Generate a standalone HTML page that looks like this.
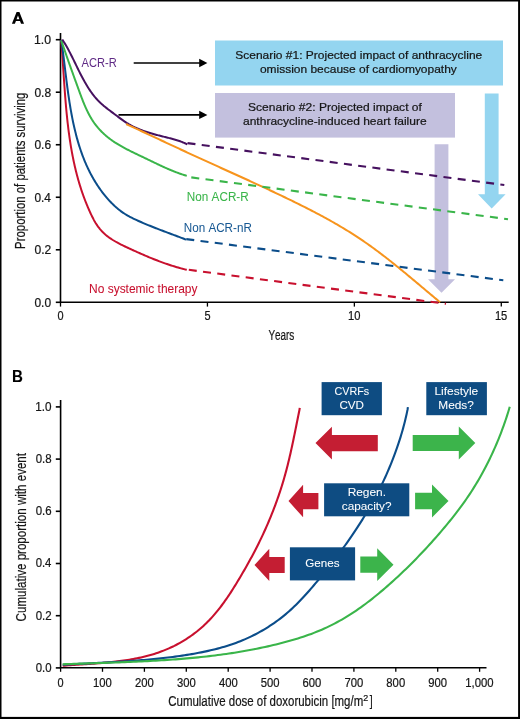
<!DOCTYPE html>
<html><head><meta charset="utf-8"><title>Figure</title>
<style>html,body{margin:0;padding:0;background:#fff;width:520px;height:719px;overflow:hidden;}
text{font-family:"Liberation Sans", sans-serif;}</style></head>
<body>
<svg width="520" height="719" viewBox="0 0 520 719" style="display:block;will-change:transform">
<rect x="0" y="0" width="520" height="719" fill="#fff"/>
<g font-family='"Liberation Sans", sans-serif' style="font-kerning:none">
<path d="M11.9,23.7 L16.6,11.9 L19.4,11.9 L24.05,23.7 L21.05,23.7 L20.0,21.1 L15.95,21.1 L14.9,23.7 Z M16.55,19.3 L17.97,15.6 L19.4,19.3 Z" fill="#000" fill-rule="evenodd"/>
<rect x="215" y="40.5" width="288" height="45" fill="#94d5f0"/>
<rect x="215" y="93" width="240" height="44.6" fill="#c3c0de"/>
<path d="M434.6,144.2 H448.4 V279.3 H455 L441.5,292.8 L428,279.3 H434.6 Z" fill="#c3c0de"/>
<path d="M484.8,93.5 H498.6 V194.2 H505.6 L491.7,208.5 L478,194.2 H484.8 Z" fill="#94d5f0"/>
<g stroke="#000" stroke-width="1.6" fill="none">
<path d="M60.5,33 V302.3 H508.7"/>
<path d="M55.8,39.70 H60.5"/>
<path d="M55.8,92.22 H60.5"/>
<path d="M55.8,144.74 H60.5"/>
<path d="M55.8,197.26 H60.5"/>
<path d="M55.8,249.78 H60.5"/>
<path d="M55.8,302.30 H60.5"/>
<path d="M60.50,302.3 V306.6" stroke-width="1.3"/>
<path d="M207.43,302.3 V306.6" stroke-width="1.3"/>
<path d="M354.36,302.3 V306.6" stroke-width="1.3"/>
<path d="M501.29,302.3 V306.6" stroke-width="1.3"/>
</g>
<g stroke="#000" stroke-width="1.7"><path d="M133.7,63 H200"/><path d="M118.5,114.9 H200"/></g>
<path d="M199.2,58.8 L207.4,63 L199.2,67.2 Z" fill="#000"/>
<path d="M199.2,110.7 L207.4,114.9 L199.2,119.1 Z" fill="#000"/>
<g fill="none" stroke-width="2.0" stroke-linejoin="round" stroke-linecap="butt">
<path d="M61.00,40.00 L61.29,41.54 L61.40,42.99 L61.52,44.43 L61.63,45.88 L61.74,47.33 L61.85,48.78 L61.96,50.23 L62.07,51.68 L62.17,53.14 L62.28,54.59 L62.38,56.05 L62.48,57.50 L62.58,58.96 L62.69,60.42 L62.78,61.88 L62.88,63.34 L62.98,64.80 L63.08,66.26 L63.18,67.72 L63.28,69.19 L63.37,70.65 L63.47,72.12 L63.57,73.58 L63.67,75.05 L63.76,76.51 L63.86,77.98 L63.96,79.45 L64.06,80.92 L64.16,82.38 L64.26,83.85 L64.37,85.32 L64.47,86.79 L64.58,88.26 L64.68,89.73 L64.79,91.20 L64.90,92.67 L65.01,94.14 L65.12,95.61 L65.24,97.08 L65.35,98.55 L65.47,100.02 L65.59,101.49 L65.71,102.96 L65.84,104.43 L65.96,105.90 L66.09,107.36 L66.23,108.83 L66.36,110.30 L66.50,111.77 L66.64,113.24 L66.79,114.70 L66.93,116.17 L67.09,117.64 L67.24,119.10 L67.40,120.57 L67.56,122.03 L67.72,123.49 L67.89,124.96 L68.07,126.42 L68.24,127.88 L68.42,129.34 L68.61,130.80 L68.80,132.26 L68.99,133.72 L69.19,135.17 L69.40,136.63 L69.61,138.09 L69.82,139.54 L70.04,140.99 L70.26,142.44 L70.49,143.89 L70.72,145.34 L70.96,146.79 L71.21,148.24 L71.46,149.68 L71.71,151.13 L71.98,152.57 L72.25,154.01 L72.52,155.45 L72.80,156.89 L73.09,158.32 L73.38,159.76 L73.68,161.19 L73.99,162.62 L74.30,164.05 L74.62,165.48 L74.95,166.91 L75.28,168.33 L75.62,169.76 L75.97,171.18 L76.32,172.59 L76.69,174.01 L77.06,175.43 L77.44,176.84 L77.82,178.25 L78.22,179.66 L78.62,181.06 L79.03,182.47 L79.45,183.87 L79.87,185.27 L80.31,186.67 L80.75,188.06 L81.20,189.46 L81.66,190.85 L82.13,192.23 L82.61,193.62 L83.10,195.00 L83.59,196.38 L84.10,197.76 L84.62,199.13 L85.14,200.51 L85.67,201.88 L86.22,203.24 L86.77,204.61 L87.34,205.97 L87.91,207.32 L88.49,208.68 L89.09,210.03 L89.69,211.38 L90.31,212.73 L90.93,214.07 L91.57,215.41 L92.23,216.74 L92.90,218.05 L93.58,219.36 L94.29,220.65 L95.03,221.92 L95.78,223.18 L96.56,224.41 L97.37,225.62 L98.21,226.81 L99.09,227.96 L99.99,229.09 L100.93,230.19 L101.91,231.25 L102.92,232.28 L103.96,233.28 L105.03,234.25 L106.13,235.19 L107.26,236.10 L108.41,236.98 L109.59,237.84 L110.79,238.66 L112.02,239.47 L113.26,240.25 L114.52,241.00 L115.79,241.74 L117.08,242.46 L118.39,243.16 L119.70,243.85 L121.02,244.52 L122.36,245.18 L123.69,245.83 L125.04,246.48 L126.38,247.11 L127.73,247.74 L129.08,248.36 L130.43,248.99 L131.77,249.61 L133.12,250.22 L134.47,250.83 L135.81,251.44 L137.15,252.05 L138.50,252.65 L139.84,253.25 L141.19,253.84 L142.53,254.43 L143.88,255.01 L145.22,255.59 L146.57,256.16 L147.92,256.73 L149.27,257.30 L150.62,257.85 L151.97,258.41 L153.33,258.95 L154.68,259.49 L156.04,260.03 L157.40,260.55 L158.77,261.08 L160.13,261.59 L161.50,262.10 L162.87,262.60 L164.25,263.09 L165.63,263.57 L167.01,264.05 L168.40,264.52 L169.79,264.98 L171.18,265.44 L172.58,265.88 L173.98,266.32 L175.39,266.75 L176.80,267.17 L178.22,267.57 L179.64,267.98 L181.07,268.37 L182.50,268.75 L183.94,269.12 L185.38,269.48 L186.80,269.80" stroke="#c8102e"/>
<path d="M61.00,40.00 L61.51,41.51 L61.68,42.75 L61.86,43.98 L62.03,45.22 L62.20,46.46 L62.37,47.70 L62.54,48.95 L62.70,50.20 L62.86,51.45 L63.03,52.71 L63.19,53.96 L63.35,55.22 L63.51,56.49 L63.67,57.75 L63.83,59.02 L63.98,60.29 L64.14,61.56 L64.30,62.83 L64.45,64.11 L64.61,65.38 L64.76,66.66 L64.92,67.94 L65.08,69.23 L65.23,70.51 L65.39,71.79 L65.55,73.08 L65.71,74.37 L65.87,75.66 L66.03,76.95 L66.19,78.24 L66.35,79.53 L66.51,80.82 L66.68,82.12 L66.84,83.41 L67.01,84.71 L67.18,86.00 L67.35,87.30 L67.53,88.60 L67.70,89.90 L67.88,91.19 L68.06,92.49 L68.24,93.79 L68.43,95.09 L68.62,96.38 L68.81,97.68 L69.00,98.98 L69.20,100.27 L69.40,101.57 L69.60,102.87 L69.81,104.16 L70.02,105.46 L70.23,106.75 L70.45,108.05 L70.67,109.34 L70.90,110.63 L71.13,111.92 L71.36,113.21 L71.60,114.50 L71.84,115.78 L72.09,117.07 L72.34,118.35 L72.59,119.64 L72.86,120.92 L73.12,122.20 L73.39,123.47 L73.67,124.75 L73.95,126.02 L74.24,127.30 L74.53,128.56 L74.83,129.83 L75.14,131.10 L75.45,132.36 L75.77,133.62 L76.09,134.88 L76.42,136.13 L76.75,137.39 L77.10,138.64 L77.45,139.88 L77.80,141.13 L78.17,142.37 L78.54,143.61 L78.91,144.84 L79.30,146.08 L79.69,147.30 L80.09,148.53 L80.50,149.75 L80.91,150.97 L81.33,152.19 L81.76,153.40 L82.20,154.60 L82.65,155.81 L83.10,157.01 L83.57,158.20 L84.04,159.39 L84.52,160.58 L85.01,161.76 L85.51,162.94 L86.02,164.12 L86.53,165.29 L87.06,166.45 L87.60,167.61 L88.14,168.77 L88.69,169.92 L89.26,171.06 L89.83,172.21 L90.42,173.34 L91.01,174.47 L91.62,175.60 L92.23,176.72 L92.86,177.83 L93.49,178.94 L94.14,180.05 L94.80,181.14 L95.46,182.24 L96.14,183.32 L96.83,184.40 L97.54,185.48 L98.25,186.55 L98.97,187.61 L99.71,188.67 L100.46,189.72 L101.22,190.76 L101.99,191.80 L102.77,192.83 L103.57,193.86 L104.38,194.87 L105.20,195.88 L106.03,196.89 L106.88,197.88 L107.74,198.87 L108.61,199.85 L109.49,200.82 L110.39,201.78 L111.30,202.72 L112.22,203.65 L113.15,204.57 L114.10,205.48 L115.06,206.37 L116.03,207.24 L117.02,208.10 L118.02,208.93 L119.03,209.75 L120.06,210.55 L121.09,211.33 L122.14,212.09 L123.21,212.83 L124.28,213.54 L125.37,214.23 L126.48,214.90 L127.59,215.55 L128.71,216.18 L129.84,216.79 L130.99,217.39 L132.14,217.97 L133.29,218.54 L134.46,219.10 L135.63,219.65 L136.80,220.19 L137.98,220.72 L139.16,221.25 L140.34,221.78 L141.53,222.29 L142.72,222.81 L143.91,223.32 L145.10,223.82 L146.30,224.32 L147.50,224.82 L148.70,225.31 L149.90,225.80 L151.11,226.29 L152.31,226.77 L153.52,227.25 L154.73,227.73 L155.94,228.20 L157.15,228.67 L158.36,229.14 L159.57,229.61 L160.79,230.07 L162.00,230.54 L163.22,231.00 L164.43,231.46 L165.65,231.92 L166.86,232.37 L168.08,232.83 L169.29,233.29 L170.51,233.74 L171.72,234.19 L172.94,234.65 L174.15,235.10 L175.36,235.55 L176.57,236.01 L177.78,236.46 L178.99,236.91 L180.20,237.37 L181.41,237.82 L182.62,238.28 L183.82,238.74 L185.02,239.20 L186.30,239.50" stroke="#0b4d8a"/>
<path d="M61.30,40.20 L61.53,41.18 L61.85,42.12 L62.17,43.07 L62.48,44.02 L62.80,44.96 L63.12,45.90 L63.44,46.84 L63.76,47.79 L64.08,48.72 L64.40,49.66 L64.72,50.60 L65.05,51.54 L65.37,52.47 L65.69,53.41 L66.02,54.34 L66.34,55.28 L66.67,56.21 L66.99,57.14 L67.32,58.08 L67.65,59.01 L67.97,59.94 L68.30,60.87 L68.63,61.80 L68.96,62.73 L69.29,63.66 L69.62,64.59 L69.95,65.52 L70.28,66.45 L70.61,67.38 L70.95,68.31 L71.28,69.23 L71.61,70.16 L71.95,71.09 L72.28,72.02 L72.62,72.95 L72.95,73.88 L73.29,74.81 L73.62,75.74 L73.96,76.67 L74.30,77.61 L74.64,78.54 L74.97,79.47 L75.31,80.40 L75.65,81.34 L75.99,82.27 L76.33,83.21 L76.67,84.14 L77.01,85.08 L77.35,86.02 L77.69,86.96 L78.03,87.90 L78.38,88.84 L78.72,89.78 L79.06,90.72 L79.40,91.66 L79.75,92.61 L80.10,93.55 L80.44,94.50 L80.79,95.44 L81.15,96.38 L81.50,97.32 L81.86,98.26 L82.22,99.20 L82.58,100.14 L82.95,101.08 L83.33,102.01 L83.70,102.94 L84.08,103.87 L84.47,104.79 L84.86,105.71 L85.26,106.63 L85.66,107.54 L86.07,108.45 L86.49,109.36 L86.91,110.26 L87.34,111.16 L87.78,112.05 L88.23,112.93 L88.68,113.81 L89.14,114.69 L89.61,115.55 L90.09,116.42 L90.58,117.27 L91.08,118.12 L91.59,118.96 L92.10,119.79 L92.63,120.61 L93.17,121.43 L93.72,122.24 L94.28,123.04 L94.86,123.83 L95.44,124.61 L96.03,125.38 L96.64,126.15 L97.26,126.90 L97.88,127.65 L98.52,128.39 L99.17,129.12 L99.83,129.84 L100.50,130.55 L101.17,131.25 L101.86,131.94 L102.56,132.63 L103.26,133.30 L103.98,133.97 L104.70,134.62 L105.43,135.27 L106.18,135.91 L106.92,136.54 L107.68,137.16 L108.45,137.78 L109.22,138.38 L110.00,138.97 L110.79,139.56 L111.59,140.13 L112.39,140.70 L113.20,141.26 L114.02,141.81 L114.84,142.36 L115.67,142.89 L116.51,143.42 L117.35,143.94 L118.20,144.46 L119.05,144.97 L119.90,145.47 L120.77,145.97 L121.63,146.46 L122.50,146.95 L123.37,147.43 L124.25,147.90 L125.13,148.37 L126.02,148.84 L126.90,149.30 L127.79,149.76 L128.69,150.21 L129.58,150.67 L130.48,151.11 L131.38,151.56 L132.28,152.00 L133.18,152.44 L134.08,152.88 L134.99,153.32 L135.89,153.75 L136.80,154.18 L137.70,154.61 L138.61,155.04 L139.51,155.48 L140.42,155.90 L141.32,156.33 L142.22,156.76 L143.12,157.19 L144.02,157.63 L144.92,158.06 L145.82,158.49 L146.71,158.92 L147.61,159.35 L148.50,159.79 L149.39,160.22 L150.28,160.65 L151.17,161.08 L152.07,161.51 L152.96,161.94 L153.85,162.37 L154.74,162.80 L155.63,163.22 L156.52,163.65 L157.41,164.07 L158.30,164.49 L159.19,164.91 L160.08,165.33 L160.97,165.75 L161.87,166.16 L162.76,166.57 L163.66,166.98 L164.55,167.38 L165.45,167.79 L166.35,168.19 L167.25,168.58 L168.16,168.97 L169.06,169.36 L169.97,169.75 L170.88,170.13 L171.79,170.51 L172.70,170.88 L173.62,171.25 L174.54,171.61 L175.46,171.97 L176.39,172.32 L177.32,172.67 L178.25,173.02 L179.18,173.36 L180.12,173.69 L181.06,174.02 L182.01,174.34 L182.96,174.65 L183.91,174.96 L184.87,175.27 L185.83,175.57 L186.80,175.80" stroke="#3ab54a"/>
<path d="M62.30,39.50 L62.79,40.26 L63.25,40.97 L63.71,41.69 L64.16,42.41 L64.61,43.14 L65.05,43.87 L65.49,44.61 L65.92,45.35 L66.35,46.09 L66.78,46.83 L67.20,47.58 L67.62,48.33 L68.03,49.09 L68.44,49.84 L68.85,50.60 L69.25,51.37 L69.66,52.13 L70.06,52.90 L70.45,53.67 L70.85,54.44 L71.24,55.21 L71.63,55.99 L72.02,56.76 L72.41,57.54 L72.79,58.32 L73.18,59.10 L73.56,59.88 L73.94,60.66 L74.33,61.45 L74.71,62.23 L75.09,63.01 L75.47,63.80 L75.85,64.58 L76.23,65.37 L76.61,66.15 L76.99,66.94 L77.37,67.72 L77.75,68.50 L78.14,69.29 L78.52,70.07 L78.91,70.85 L79.30,71.63 L79.68,72.41 L80.07,73.19 L80.47,73.96 L80.86,74.74 L81.26,75.51 L81.66,76.28 L82.06,77.05 L82.47,77.81 L82.87,78.58 L83.28,79.34 L83.70,80.10 L84.12,80.85 L84.54,81.61 L84.96,82.36 L85.39,83.11 L85.83,83.85 L86.26,84.59 L86.71,85.33 L87.15,86.06 L87.60,86.79 L88.06,87.52 L88.52,88.24 L88.99,88.96 L89.46,89.67 L89.94,90.38 L90.43,91.08 L90.92,91.78 L91.41,92.47 L91.92,93.16 L92.43,93.85 L92.94,94.52 L93.46,95.20 L93.99,95.86 L94.53,96.53 L95.08,97.18 L95.63,97.83 L96.19,98.47 L96.76,99.11 L97.33,99.74 L97.92,100.36 L98.51,100.98 L99.11,101.59 L99.72,102.19 L100.34,102.79 L100.97,103.38 L101.61,103.96 L102.25,104.54 L102.90,105.11 L103.56,105.67 L104.23,106.23 L104.90,106.78 L105.58,107.33 L106.26,107.87 L106.95,108.41 L107.64,108.95 L108.33,109.48 L109.03,110.01 L109.73,110.54 L110.43,111.07 L111.13,111.60 L111.84,112.12 L112.54,112.64 L113.24,113.17 L113.95,113.69 L114.65,114.21 L115.35,114.74 L116.04,115.26 L116.74,115.79 L117.43,116.32 L118.13,116.84 L118.82,117.36 L119.52,117.88 L120.21,118.40 L120.91,118.92 L121.60,119.42 L122.30,119.93 L123.00,120.43 L123.71,120.92 L124.41,121.41 L125.13,121.89 L125.84,122.36 L126.56,122.82 L127.29,123.27 L128.02,123.71 L128.75,124.15 L129.49,124.57 L130.23,124.99 L130.98,125.40 L131.74,125.79 L132.50,126.18 L133.26,126.57 L134.03,126.94 L134.80,127.31 L135.57,127.66 L136.35,128.02 L137.13,128.36 L137.92,128.70 L138.71,129.03 L139.50,129.35 L140.30,129.67 L141.10,129.98 L141.90,130.28 L142.70,130.58 L143.51,130.87 L144.32,131.16 L145.14,131.44 L145.95,131.72 L146.77,131.99 L147.59,132.25 L148.42,132.52 L149.24,132.77 L150.07,133.03 L150.90,133.28 L151.73,133.52 L152.56,133.76 L153.39,134.00 L154.23,134.23 L155.07,134.46 L155.91,134.69 L156.74,134.92 L157.58,135.14 L158.43,135.36 L159.27,135.58 L160.11,135.79 L160.95,136.01 L161.80,136.22 L162.64,136.43 L163.48,136.64 L164.33,136.85 L165.17,137.06 L166.02,137.27 L166.86,137.47 L167.70,137.68 L168.54,137.89 L169.38,138.11 L170.22,138.32 L171.06,138.54 L171.90,138.77 L172.73,138.99 L173.57,139.22 L174.40,139.46 L175.23,139.70 L176.06,139.95 L176.88,140.21 L177.70,140.47 L178.52,140.74 L179.34,141.02 L180.15,141.31 L180.96,141.61 L181.77,141.91 L182.57,142.23 L183.37,142.56 L184.16,142.90 L184.95,143.25 L185.74,143.62 L186.52,143.99 L187.30,144.40" stroke="#46115f"/>
<path d="M126.20,124.00 L127.82,124.85 L129.48,125.61 L131.13,126.38 L132.79,127.14 L134.45,127.91 L136.10,128.67 L137.76,129.44 L139.42,130.21 L141.07,130.98 L142.73,131.74 L144.38,132.51 L146.04,133.28 L147.69,134.05 L149.34,134.82 L151.00,135.60 L152.65,136.37 L154.31,137.14 L155.96,137.91 L157.61,138.68 L159.27,139.45 L160.92,140.22 L162.57,141.00 L164.23,141.77 L165.88,142.54 L167.53,143.31 L169.19,144.08 L170.84,144.85 L172.49,145.62 L174.15,146.39 L175.80,147.16 L177.45,147.93 L179.11,148.70 L180.76,149.47 L182.42,150.24 L184.07,151.01 L185.73,151.78 L187.38,152.54 L189.04,153.31 L190.70,154.08 L192.35,154.84 L194.01,155.60 L195.67,156.37 L197.33,157.13 L198.98,157.89 L200.64,158.65 L202.30,159.41 L203.96,160.17 L205.62,160.93 L207.28,161.68 L208.94,162.44 L210.61,163.19 L212.27,163.95 L213.93,164.70 L215.59,165.46 L217.25,166.21 L218.92,166.96 L220.58,167.72 L222.24,168.47 L223.91,169.22 L225.57,169.97 L227.23,170.73 L228.90,171.48 L230.56,172.23 L232.22,172.98 L233.89,173.74 L235.55,174.49 L237.21,175.24 L238.87,176.00 L240.54,176.75 L242.20,177.51 L243.86,178.26 L245.52,179.02 L247.18,179.77 L248.85,180.53 L250.51,181.29 L252.17,182.05 L253.83,182.81 L255.49,183.57 L257.14,184.33 L258.80,185.10 L260.46,185.86 L262.12,186.63 L263.77,187.39 L265.43,188.16 L267.08,188.93 L268.74,189.70 L270.39,190.48 L272.04,191.25 L273.70,192.03 L275.35,192.81 L277.00,193.59 L278.65,194.37 L280.29,195.15 L281.94,195.94 L283.59,196.73 L285.23,197.52 L286.88,198.31 L288.52,199.10 L290.16,199.90 L291.80,200.70 L293.44,201.50 L295.08,202.30 L296.72,203.11 L298.35,203.92 L299.99,204.73 L301.62,205.55 L303.25,206.37 L304.88,207.19 L306.51,208.01 L308.13,208.84 L309.76,209.67 L311.38,210.51 L313.00,211.35 L314.62,212.19 L316.23,213.04 L317.84,213.89 L319.45,214.74 L321.06,215.60 L322.67,216.47 L324.27,217.34 L325.87,218.21 L327.46,219.09 L329.06,219.97 L330.65,220.86 L332.23,221.75 L333.82,222.65 L335.40,223.56 L336.98,224.47 L338.55,225.39 L340.12,226.31 L341.69,227.24 L343.25,228.17 L344.81,229.11 L346.36,230.06 L347.91,231.01 L349.46,231.97 L351.00,232.94 L352.54,233.91 L354.07,234.89 L355.60,235.88 L357.13,236.88 L358.65,237.88 L360.16,238.89 L361.67,239.91 L363.18,240.93 L364.68,241.96 L366.17,243.00 L367.67,244.05 L369.15,245.10 L370.64,246.16 L372.12,247.23 L373.59,248.30 L375.06,249.38 L376.53,250.47 L377.99,251.56 L379.45,252.65 L380.91,253.75 L382.36,254.86 L383.81,255.97 L385.26,257.08 L386.70,258.20 L388.14,259.33 L389.58,260.46 L391.01,261.59 L392.44,262.73 L393.87,263.87 L395.30,265.01 L396.72,266.16 L398.14,267.31 L399.56,268.46 L400.98,269.62 L402.40,270.78 L403.81,271.94 L405.22,273.10 L406.63,274.27 L408.04,275.44 L409.45,276.61 L410.85,277.78 L412.26,278.95 L413.66,280.12 L415.06,281.29 L416.46,282.47 L417.87,283.64 L419.26,284.82 L420.66,286.00 L422.06,287.17 L423.46,288.35 L424.86,289.52 L426.25,290.70 L427.65,291.87 L429.05,293.05 L430.45,294.22 L431.84,295.39 L433.24,296.56 L434.64,297.73 L436.04,298.89 L437.44,300.06 L438.83,301.22 L440.30,302.30" stroke="#f7941d"/>
</g>
<path d="M187.50,143.10 L504.30,185.00" stroke="#46115f" stroke-width="2.10" stroke-dasharray="8.000 6.344" fill="none"/>
<path d="M191.30,177.40 L508.00,219.20" stroke="#3ab54a" stroke-width="2.10" stroke-dasharray="8.000 6.343" fill="none"/>
<path d="M186.30,239.10 L503.30,280.30" stroke="#0b4d8a" stroke-width="2.10" stroke-dasharray="8.000 6.340" fill="none"/>
<path d="M188.80,269.80 L446.00,303.80" stroke="#c8102e" stroke-width="2.10" stroke-dasharray="8.000 6.344" fill="none"/>
<text x="81.48" y="66.90" font-size="12.10" fill="#5f2a85" textLength="35.24" lengthAdjust="spacingAndGlyphs">ACR-R</text>
<text x="186.86" y="200.80" font-size="12.10" fill="#3ab54a" stroke="#3ab54a" stroke-width="0.05" textLength="61.85" lengthAdjust="spacingAndGlyphs">Non ACR-R</text>
<text x="183.76" y="231.60" font-size="12.10" fill="#175893" stroke="#175893" stroke-width="0.03" textLength="68.07" lengthAdjust="spacingAndGlyphs">Non ACR-nR</text>
<text x="89.04" y="293.20" font-size="12.10" fill="#c8102e" stroke="#c8102e" stroke-width="0.05" textLength="108.46" lengthAdjust="spacingAndGlyphs">No systemic therapy</text>
<text x="235.27" y="59.20" font-size="11.80" fill="#161616" stroke="#161616" stroke-width="0.22" textLength="246.96" lengthAdjust="spacingAndGlyphs">Scenario #1: Projected impact of anthracycline</text>
<text x="259.91" y="73.40" font-size="11.80" fill="#161616" stroke="#161616" stroke-width="0.22" textLength="196.91" lengthAdjust="spacingAndGlyphs">omission because of cardiomyopathy</text>
<text x="248.06" y="111.20" font-size="11.80" fill="#161616" stroke="#161616" stroke-width="0.22" textLength="173.81" lengthAdjust="spacingAndGlyphs">Scenario #2: Projected impact of</text>
<text x="243.00" y="125.30" font-size="11.80" fill="#161616" stroke="#161616" stroke-width="0.22" textLength="183.62" lengthAdjust="spacingAndGlyphs">anthracycline-induced heart failure</text>
<text x="33.97" y="44.00" font-size="12.40" fill="#161616" stroke="#161616" stroke-width="0.22" textLength="17.10" lengthAdjust="spacingAndGlyphs">1.0</text>
<text x="34.44" y="96.52" font-size="12.40" fill="#161616" stroke="#161616" stroke-width="0.22" textLength="16.67" lengthAdjust="spacingAndGlyphs">0.8</text>
<text x="34.44" y="149.04" font-size="12.40" fill="#161616" stroke="#161616" stroke-width="0.22" textLength="16.68" lengthAdjust="spacingAndGlyphs">0.6</text>
<text x="34.45" y="201.56" font-size="12.40" fill="#161616" stroke="#161616" stroke-width="0.22" textLength="16.49" lengthAdjust="spacingAndGlyphs">0.4</text>
<text x="34.44" y="254.08" font-size="12.40" fill="#161616" stroke="#161616" stroke-width="0.22" textLength="16.76" lengthAdjust="spacingAndGlyphs">0.2</text>
<text x="34.44" y="306.60" font-size="12.40" fill="#161616" stroke="#161616" stroke-width="0.22" textLength="16.61" lengthAdjust="spacingAndGlyphs">0.0</text>
<text x="57.46" y="319.50" font-size="12.40" fill="#161616" stroke="#161616" stroke-width="0.22" textLength="6.09" lengthAdjust="spacingAndGlyphs">0</text>
<text x="204.40" y="319.50" font-size="12.40" fill="#161616" stroke="#161616" stroke-width="0.22" textLength="6.09" lengthAdjust="spacingAndGlyphs">5</text>
<text x="347.93" y="319.50" font-size="12.40" fill="#161616" stroke="#161616" stroke-width="0.22" textLength="12.44" lengthAdjust="spacingAndGlyphs">10</text>
<text x="494.88" y="319.50" font-size="12.40" fill="#161616" stroke="#161616" stroke-width="0.22" textLength="12.44" lengthAdjust="spacingAndGlyphs">15</text>
<text x="268.39" y="339.50" font-size="14.70" fill="#161616" stroke="#161616" stroke-width="0.22" textLength="25.96" lengthAdjust="spacingAndGlyphs">Years</text>
<text transform="translate(25.10,248.00) rotate(-90)" x="-0.93" y="0" font-size="14.40" fill="#161616" stroke="#161616" stroke-width="0.22" textLength="156.37" lengthAdjust="spacingAndGlyphs">Proportion of patients surviving</text>
<text x="12.04" y="381.60" font-size="17.00" fill="#000" stroke="#000" stroke-width="0.10" font-weight="bold" textLength="10.89" lengthAdjust="spacingAndGlyphs">B</text>
<g fill="none" stroke-width="2.1">
<path d="M62.70,665.80 L64.64,665.61 L66.57,665.47 L68.50,665.32 L70.43,665.19 L72.37,665.05 L74.31,664.92 L76.26,664.79 L78.21,664.67 L80.17,664.54 L82.12,664.41 L84.09,664.28 L86.05,664.15 L88.02,664.02 L89.99,663.89 L91.96,663.75 L93.93,663.61 L95.90,663.46 L97.88,663.31 L99.86,663.16 L101.83,663.00 L103.81,662.83 L105.78,662.65 L107.76,662.46 L109.74,662.27 L111.71,662.06 L113.68,661.85 L115.65,661.63 L117.62,661.39 L119.59,661.14 L121.55,660.88 L123.51,660.61 L125.47,660.32 L127.43,660.01 L129.38,659.70 L131.32,659.36 L133.27,659.01 L135.20,658.64 L137.14,658.26 L139.06,657.85 L140.99,657.43 L142.90,656.99 L144.81,656.52 L146.72,656.04 L148.61,655.53 L150.50,655.00 L152.38,654.45 L154.26,653.88 L156.13,653.28 L157.98,652.66 L159.83,652.01 L161.68,651.33 L163.51,650.63 L165.33,649.90 L167.14,649.15 L168.95,648.36 L170.74,647.55 L172.52,646.71 L174.29,645.85 L176.04,644.95 L177.78,644.03 L179.51,643.09 L181.23,642.12 L182.93,641.12 L184.61,640.10 L186.28,639.05 L187.93,637.98 L189.57,636.88 L191.18,635.76 L192.78,634.61 L194.36,633.44 L195.92,632.24 L197.46,631.03 L198.98,629.78 L200.48,628.52 L201.96,627.23 L203.41,625.92 L204.85,624.59 L206.26,623.23 L207.65,621.85 L209.01,620.46 L210.36,619.04 L211.69,617.60 L212.99,616.15 L214.28,614.67 L215.55,613.18 L216.80,611.68 L218.04,610.16 L219.26,608.62 L220.46,607.07 L221.65,605.50 L222.82,603.92 L223.98,602.33 L225.12,600.73 L226.25,599.11 L227.37,597.49 L228.47,595.85 L229.57,594.21 L230.65,592.56 L231.73,590.90 L232.79,589.23 L233.84,587.56 L234.89,585.88 L235.93,584.20 L236.96,582.51 L237.98,580.82 L238.99,579.12 L240.01,577.43 L241.01,575.73 L242.01,574.03 L243.00,572.32 L243.99,570.62 L244.97,568.91 L245.95,567.20 L246.92,565.49 L247.88,563.77 L248.84,562.05 L249.79,560.33 L250.73,558.61 L251.67,556.88 L252.60,555.15 L253.52,553.41 L254.43,551.68 L255.34,549.93 L256.23,548.19 L257.13,546.44 L258.01,544.68 L258.88,542.93 L259.75,541.16 L260.61,539.40 L261.46,537.62 L262.30,535.85 L263.13,534.07 L263.96,532.29 L264.77,530.50 L265.58,528.71 L266.38,526.91 L267.17,525.11 L267.95,523.31 L268.72,521.50 L269.48,519.69 L270.24,517.87 L270.98,516.06 L271.72,514.23 L272.45,512.41 L273.17,510.58 L273.88,508.74 L274.58,506.91 L275.27,505.07 L275.95,503.22 L276.62,501.37 L277.28,499.52 L277.93,497.67 L278.58,495.81 L279.21,493.95 L279.83,492.08 L280.45,490.21 L281.05,488.34 L281.65,486.47 L282.23,484.59 L282.80,482.71 L283.37,480.83 L283.92,478.94 L284.47,477.05 L285.00,475.15 L285.52,473.26 L286.04,471.36 L286.54,469.46 L287.04,467.55 L287.52,465.65 L288.00,463.74 L288.47,461.82 L288.93,459.91 L289.39,457.99 L289.83,456.08 L290.28,454.16 L290.71,452.24 L291.14,450.32 L291.56,448.39 L291.98,446.47 L292.40,444.54 L292.80,442.61 L293.21,440.69 L293.61,438.76 L294.01,436.83 L294.41,434.90 L294.80,432.97 L295.19,431.04 L295.58,429.12 L295.97,427.19 L296.36,425.26 L296.75,423.33 L297.13,421.40 L297.52,419.47 L297.91,417.55 L298.29,415.62 L298.68,413.70 L299.08,411.78 L299.47,409.85 L299.75,407.90" stroke="#c8102e"/>
<path d="M62.70,664.80 L65.10,664.68 L67.50,664.54 L69.90,664.40 L72.30,664.26 L74.70,664.13 L77.10,664.00 L79.49,663.87 L81.89,663.75 L84.29,663.62 L86.69,663.50 L89.09,663.37 L91.49,663.25 L93.88,663.12 L96.28,663.00 L98.68,662.87 L101.07,662.75 L103.47,662.62 L105.86,662.49 L108.26,662.36 L110.65,662.23 L113.05,662.09 L115.44,661.95 L117.83,661.81 L120.22,661.66 L122.62,661.51 L125.01,661.36 L127.40,661.20 L129.79,661.04 L132.18,660.87 L134.57,660.70 L136.96,660.52 L139.34,660.33 L141.73,660.14 L144.12,659.94 L146.50,659.74 L148.89,659.52 L151.28,659.30 L153.66,659.08 L156.04,658.84 L158.43,658.60 L160.81,658.34 L163.19,658.08 L165.57,657.81 L167.95,657.53 L170.33,657.24 L172.71,656.93 L175.08,656.62 L177.46,656.30 L179.83,655.96 L182.21,655.61 L184.58,655.26 L186.96,654.89 L189.33,654.50 L191.70,654.10 L194.07,653.69 L196.43,653.27 L198.80,652.83 L201.16,652.37 L203.52,651.89 L205.87,651.40 L208.22,650.88 L210.56,650.35 L212.90,649.79 L215.23,649.22 L217.55,648.62 L219.87,647.99 L222.18,647.35 L224.48,646.68 L226.78,645.98 L229.06,645.25 L231.34,644.50 L233.60,643.72 L235.86,642.91 L238.10,642.07 L240.34,641.20 L242.56,640.29 L244.77,639.36 L246.96,638.39 L249.14,637.39 L251.31,636.36 L253.47,635.30 L255.61,634.20 L257.73,633.08 L259.84,631.93 L261.93,630.75 L264.00,629.53 L266.06,628.29 L268.09,627.02 L270.11,625.72 L272.11,624.39 L274.09,623.04 L276.05,621.65 L277.99,620.24 L279.90,618.80 L281.80,617.33 L283.67,615.84 L285.52,614.32 L287.34,612.78 L289.14,611.20 L290.92,609.61 L292.67,607.99 L294.41,606.34 L296.12,604.68 L297.81,602.99 L299.49,601.29 L301.14,599.56 L302.78,597.82 L304.41,596.07 L306.02,594.29 L307.61,592.51 L309.20,590.71 L310.77,588.90 L312.34,587.08 L313.89,585.25 L315.44,583.42 L316.98,581.57 L318.51,579.72 L320.04,577.87 L321.57,576.01 L323.08,574.14 L324.59,572.27 L326.10,570.39 L327.60,568.51 L329.09,566.63 L330.57,564.73 L332.05,562.84 L333.52,560.93 L334.99,559.02 L336.44,557.11 L337.89,555.19 L339.33,553.26 L340.76,551.33 L342.19,549.39 L343.60,547.45 L345.01,545.50 L346.40,543.54 L347.79,541.58 L349.17,539.61 L350.54,537.64 L351.90,535.66 L353.24,533.67 L354.58,531.68 L355.91,529.68 L357.23,527.67 L358.53,525.66 L359.83,523.64 L361.11,521.62 L362.38,519.58 L363.64,517.55 L364.89,515.50 L366.13,513.45 L367.35,511.39 L368.56,509.33 L369.76,507.25 L370.95,505.17 L372.12,503.09 L373.28,500.99 L374.43,498.89 L375.56,496.79 L376.68,494.67 L377.78,492.55 L378.87,490.42 L379.95,488.29 L381.01,486.14 L382.05,483.99 L383.08,481.83 L384.10,479.67 L385.10,477.49 L386.08,475.31 L387.05,473.13 L388.00,470.93 L388.94,468.73 L389.86,466.53 L390.77,464.31 L391.66,462.09 L392.54,459.87 L393.40,457.64 L394.25,455.40 L395.08,453.16 L395.89,450.91 L396.69,448.66 L397.47,446.40 L398.24,444.13 L398.99,441.86 L399.73,439.59 L400.45,437.31 L401.15,435.02 L401.83,432.73 L402.49,430.44 L403.14,428.13 L403.76,425.82 L404.37,423.51 L404.95,421.19 L405.52,418.86 L406.06,416.53 L406.58,414.20 L407.08,411.85 L407.56,409.50 L407.90,407.10" stroke="#0b4d8a"/>
<path d="M62.70,664.30 L65.55,664.14 L68.36,664.04 L71.17,663.95 L73.98,663.85 L76.80,663.76 L79.61,663.67 L82.43,663.58 L85.25,663.48 L88.07,663.39 L90.89,663.30 L93.71,663.21 L96.53,663.12 L99.35,663.03 L102.17,662.94 L105.00,662.84 L107.82,662.75 L110.65,662.65 L113.47,662.55 L116.30,662.45 L119.12,662.34 L121.95,662.24 L124.78,662.13 L127.60,662.01 L130.43,661.90 L133.26,661.78 L136.09,661.65 L138.91,661.52 L141.74,661.39 L144.57,661.25 L147.39,661.11 L150.22,660.96 L153.04,660.80 L155.87,660.64 L158.69,660.47 L161.52,660.30 L164.34,660.12 L167.16,659.93 L169.99,659.74 L172.81,659.54 L175.63,659.33 L178.45,659.11 L181.26,658.88 L184.08,658.65 L186.90,658.41 L189.71,658.15 L192.53,657.89 L195.34,657.62 L198.15,657.34 L200.96,657.05 L203.77,656.75 L206.58,656.44 L209.38,656.11 L212.19,655.78 L214.99,655.43 L217.79,655.08 L220.59,654.71 L223.38,654.33 L226.18,653.93 L228.97,653.53 L231.76,653.11 L234.55,652.68 L237.33,652.23 L240.12,651.77 L242.90,651.30 L245.68,650.81 L248.45,650.31 L251.23,649.79 L254.00,649.26 L256.77,648.71 L259.54,648.15 L262.30,647.57 L265.06,646.98 L267.82,646.36 L270.57,645.74 L273.32,645.09 L276.07,644.43 L278.82,643.75 L281.56,643.05 L284.30,642.34 L287.03,641.60 L289.76,640.85 L292.49,640.07 L295.20,639.27 L297.91,638.44 L300.61,637.59 L303.29,636.71 L305.97,635.80 L308.64,634.86 L311.29,633.89 L313.93,632.89 L316.56,631.85 L319.17,630.78 L321.77,629.68 L324.34,628.53 L326.91,627.35 L329.45,626.14 L331.98,624.89 L334.49,623.60 L336.98,622.28 L339.45,620.93 L341.90,619.54 L344.34,618.12 L346.75,616.67 L349.15,615.18 L351.52,613.66 L353.88,612.12 L356.22,610.54 L358.54,608.94 L360.85,607.31 L363.13,605.66 L365.41,603.98 L367.66,602.28 L369.90,600.56 L372.13,598.82 L374.34,597.05 L376.54,595.27 L378.72,593.47 L380.89,591.66 L383.05,589.83 L385.20,587.99 L387.33,586.13 L389.45,584.27 L391.56,582.38 L393.66,580.49 L395.75,578.59 L397.83,576.67 L399.89,574.74 L401.95,572.80 L403.99,570.85 L406.02,568.88 L408.04,566.91 L410.05,564.92 L412.05,562.93 L414.04,560.92 L416.02,558.90 L417.98,556.88 L419.94,554.84 L421.89,552.79 L423.82,550.73 L425.74,548.67 L427.66,546.59 L429.56,544.51 L431.46,542.42 L433.34,540.31 L435.21,538.20 L437.08,536.08 L438.93,533.96 L440.77,531.82 L442.60,529.68 L444.43,527.52 L446.23,525.36 L448.03,523.19 L449.81,521.00 L451.58,518.81 L453.33,516.60 L455.07,514.39 L456.79,512.16 L458.49,509.91 L460.18,507.66 L461.85,505.39 L463.50,503.10 L465.12,500.81 L466.73,498.49 L468.32,496.16 L469.88,493.82 L471.43,491.45 L472.94,489.08 L474.44,486.68 L475.92,484.28 L477.37,481.85 L478.80,479.42 L480.21,476.97 L481.59,474.50 L482.96,472.03 L484.30,469.53 L485.62,467.03 L486.91,464.52 L488.19,461.99 L489.44,459.45 L490.67,456.90 L491.87,454.34 L493.06,451.77 L494.22,449.19 L495.36,446.60 L496.48,444.00 L497.57,441.39 L498.64,438.78 L499.69,436.15 L500.72,433.52 L501.73,430.88 L502.71,428.23 L503.67,425.58 L504.61,422.92 L505.53,420.25 L506.42,417.58 L507.29,414.90 L508.14,412.22 L508.97,409.53 L509.75,406.80" stroke="#3ab54a"/>
</g>
<rect x="321.6" y="382.1" width="60.3" height="33.1" fill="#0e4c82"/>
<rect x="426.3" y="382.1" width="60.6" height="33.1" fill="#0e4c82"/>
<rect x="324.1" y="483.3" width="85.2" height="33" fill="#0e4c82"/>
<rect x="289.9" y="547.3" width="65.2" height="33.1" fill="#0e4c82"/>
<path d="M315.50,443.10 L331.90,426.70 V435.00 H377.80 V451.20 H331.90 V459.50 Z" fill="#c41e33"/>
<path d="M412.70,434.90 H458.80 V426.60 L475.30,443.00 L458.80,459.40 V451.10 H412.70 Z" fill="#3cb44b"/>
<path d="M288.50,501.10 L303.10,484.85 V493.00 H318.40 V509.20 H303.10 V517.35 Z" fill="#c41e33"/>
<path d="M415.10,492.85 H432.00 V484.60 L448.50,501.00 L432.00,517.40 V509.15 H415.10 Z" fill="#3cb44b"/>
<path d="M254.50,564.90 L269.30,548.70 V556.90 H284.70 V572.90 H269.30 V581.10 Z" fill="#c41e33"/>
<path d="M360.30,556.60 H377.20 V548.35 L393.50,564.70 L377.20,581.05 V572.80 H360.30 Z" fill="#3cb44b"/>
<text x="334.48" y="395.40" font-size="11.60" fill="#ffffff" stroke="#ffffff" stroke-width="0.06" textLength="34.68" lengthAdjust="spacingAndGlyphs">CVRFs</text>
<text x="339.44" y="409.30" font-size="11.60" fill="#ffffff" stroke="#ffffff" stroke-width="0.06" textLength="24.59" lengthAdjust="spacingAndGlyphs">CVD</text>
<text x="434.45" y="395.40" font-size="11.60" fill="#ffffff" stroke="#ffffff" stroke-width="0.06" textLength="43.75" lengthAdjust="spacingAndGlyphs">Lifestyle</text>
<text x="438.26" y="409.30" font-size="11.60" fill="#ffffff" stroke="#ffffff" stroke-width="0.06" textLength="35.66" lengthAdjust="spacingAndGlyphs">Meds?</text>
<text x="347.65" y="496.30" font-size="11.60" fill="#ffffff" stroke="#ffffff" stroke-width="0.06" textLength="38.40" lengthAdjust="spacingAndGlyphs">Regen.</text>
<text x="341.83" y="510.20" font-size="11.60" fill="#ffffff" stroke="#ffffff" stroke-width="0.06" textLength="49.68" lengthAdjust="spacingAndGlyphs">capacity?</text>
<text x="305.24" y="567.40" font-size="11.60" fill="#ffffff" stroke="#ffffff" stroke-width="0.06" textLength="34.35" lengthAdjust="spacingAndGlyphs">Genes</text>
<g stroke="#000" stroke-width="1.6" fill="none">
<path d="M60.6,400 V667.8 H486.5"/>
<path d="M55.8,406.90 H60.6"/>
<path d="M55.8,459.10 H60.6"/>
<path d="M55.8,511.30 H60.6"/>
<path d="M55.8,563.50 H60.6"/>
<path d="M55.8,615.70 H60.6"/>
<path d="M55.8,667.90 H60.6"/>
<path d="M60.60,667.8 V671.8" stroke-width="1.3"/>
<path d="M102.50,667.8 V671.8" stroke-width="1.3"/>
<path d="M144.40,667.8 V671.8" stroke-width="1.3"/>
<path d="M186.30,667.8 V671.8" stroke-width="1.3"/>
<path d="M228.20,667.8 V671.8" stroke-width="1.3"/>
<path d="M270.10,667.8 V671.8" stroke-width="1.3"/>
<path d="M312.00,667.8 V671.8" stroke-width="1.3"/>
<path d="M353.90,667.8 V671.8" stroke-width="1.3"/>
<path d="M395.80,667.8 V671.8" stroke-width="1.3"/>
<path d="M437.70,667.8 V671.8" stroke-width="1.3"/>
<path d="M479.60,667.8 V671.8" stroke-width="1.3"/>
</g>
<text x="35.21" y="410.80" font-size="12.40" fill="#161616" stroke="#161616" stroke-width="0.22" textLength="16.33" lengthAdjust="spacingAndGlyphs">1.0</text>
<text x="35.66" y="463.00" font-size="12.40" fill="#161616" stroke="#161616" stroke-width="0.22" textLength="15.93" lengthAdjust="spacingAndGlyphs">0.8</text>
<text x="35.66" y="515.20" font-size="12.40" fill="#161616" stroke="#161616" stroke-width="0.22" textLength="15.93" lengthAdjust="spacingAndGlyphs">0.6</text>
<text x="35.67" y="567.40" font-size="12.40" fill="#161616" stroke="#161616" stroke-width="0.22" textLength="15.75" lengthAdjust="spacingAndGlyphs">0.4</text>
<text x="35.66" y="619.60" font-size="12.40" fill="#161616" stroke="#161616" stroke-width="0.22" textLength="16.01" lengthAdjust="spacingAndGlyphs">0.2</text>
<text x="35.66" y="671.80" font-size="12.40" fill="#161616" stroke="#161616" stroke-width="0.22" textLength="15.87" lengthAdjust="spacingAndGlyphs">0.0</text>
<text x="57.56" y="686.70" font-size="12.40" fill="#161616" stroke="#161616" stroke-width="0.22" textLength="6.09" lengthAdjust="spacingAndGlyphs">0</text>
<text x="92.89" y="686.70" font-size="12.40" fill="#161616" stroke="#161616" stroke-width="0.22" textLength="18.80" lengthAdjust="spacingAndGlyphs">100</text>
<text x="134.94" y="686.70" font-size="12.40" fill="#161616" stroke="#161616" stroke-width="0.22" textLength="18.80" lengthAdjust="spacingAndGlyphs">200</text>
<text x="176.90" y="686.70" font-size="12.40" fill="#161616" stroke="#161616" stroke-width="0.22" textLength="18.80" lengthAdjust="spacingAndGlyphs">300</text>
<text x="218.89" y="686.70" font-size="12.40" fill="#161616" stroke="#161616" stroke-width="0.22" textLength="18.81" lengthAdjust="spacingAndGlyphs">400</text>
<text x="260.69" y="686.70" font-size="12.40" fill="#161616" stroke="#161616" stroke-width="0.22" textLength="18.80" lengthAdjust="spacingAndGlyphs">500</text>
<text x="302.53" y="686.70" font-size="12.40" fill="#161616" stroke="#161616" stroke-width="0.22" textLength="18.80" lengthAdjust="spacingAndGlyphs">600</text>
<text x="344.43" y="686.70" font-size="12.40" fill="#161616" stroke="#161616" stroke-width="0.22" textLength="18.80" lengthAdjust="spacingAndGlyphs">700</text>
<text x="386.37" y="686.70" font-size="12.40" fill="#161616" stroke="#161616" stroke-width="0.22" textLength="18.80" lengthAdjust="spacingAndGlyphs">800</text>
<text x="428.26" y="686.70" font-size="12.40" fill="#161616" stroke="#161616" stroke-width="0.22" textLength="18.80" lengthAdjust="spacingAndGlyphs">900</text>
<text x="465.23" y="686.70" font-size="12.40" fill="#161616" stroke="#161616" stroke-width="0.22" textLength="28.32" lengthAdjust="spacingAndGlyphs">1,000</text>
<text x="168.23" y="705.80" font-size="14.90" fill="#161616" stroke="#161616" stroke-width="0.22" textLength="195.02" lengthAdjust="spacingAndGlyphs">Cumulative dose of doxorubicin [mg/m</text>
<text x="363.36" y="701.30" font-size="9.50" fill="#161616" stroke="#161616" stroke-width="0.22" textLength="4.98" lengthAdjust="spacingAndGlyphs">2</text>
<text x="369.63" y="705.80" font-size="14.90" fill="#161616" stroke="#161616" stroke-width="0.22" textLength="2.91" lengthAdjust="spacingAndGlyphs">]</text>
<text transform="translate(26.00,620.80) rotate(-90)" x="-0.59" y="0" font-size="15.00" fill="#161616" stroke="#161616" stroke-width="0.22" textLength="168.37" lengthAdjust="spacingAndGlyphs">Cumulative proportion with event</text>
</g>
<rect x="0" y="0" width="520" height="1.5" fill="#000"/>
<rect x="0" y="0" width="1.5" height="719" fill="#000"/>
<rect x="518.1" y="0" width="1.9" height="719" fill="#000"/>
<rect x="0" y="716.9" width="520" height="2.1" fill="#000"/>
</svg>
</body></html>
